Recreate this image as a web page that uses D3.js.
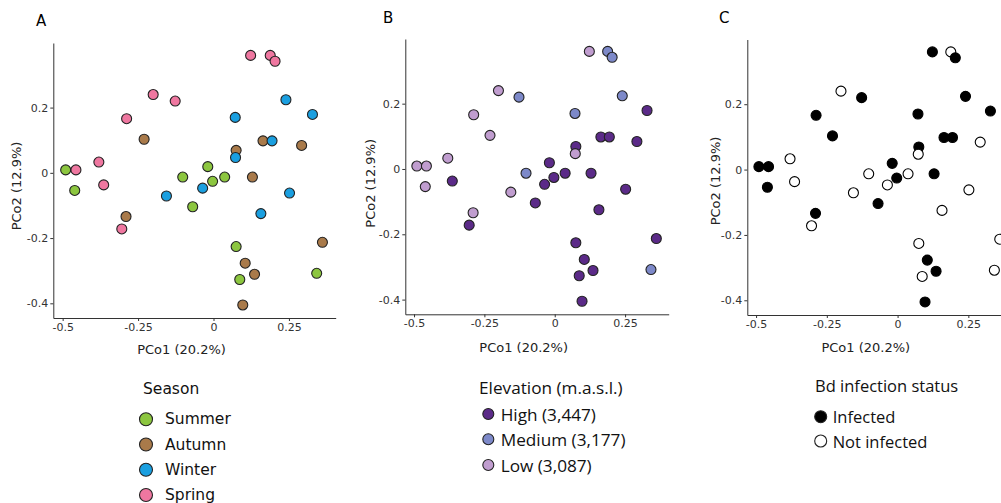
<!DOCTYPE html>
<html><head><meta charset="utf-8">
<script src="https://cdn.jsdelivr.net/npm/d3@7/dist/d3.min.js"></script>
<style>body{margin:0;background:#fff}svg{display:block}</style>
</head><body>
<svg id="c" width="1001" height="503"></svg>
<script>
// ---- data (one entry per sample) ----
const pc1 = [-0.490,-0.456,-0.460,-0.380,-0.364,-0.288,-0.230,-0.290,-0.304,-0.200,
             -0.127,-0.102,-0.156,-0.069,-0.036,-0.019,-0.003,0.037,0.072,0.075,
             0.073,0.123,0.188,0.204,0.129,0.157,0.164,0.194,0.240,0.328,
             0.292,0.252,0.361,0.075,0.105,0.136,0.087,0.342,0.097];
const pc2 = [0.009,0.009,-0.054,0.033,-0.037,0.166,0.103,-0.134,-0.172,0.240,
             0.220,-0.013,-0.071,-0.104,-0.047,0.019,-0.026,-0.013,0.170,0.069,
             0.047,0.360,0.360,0.342,-0.013,-0.125,0.098,0.098,0.224,0.179,
             0.084,-0.062,-0.213,-0.226,-0.277,-0.311,-0.327,-0.308,-0.405];
const season = ["Summer","Spring","Summer","Spring","Spring","Spring","Autumn","Autumn","Spring","Spring",
                "Spring","Summer","Winter","Summer","Winter","Summer","Summer","Summer","Winter","Autumn",
                "Winter","Spring","Spring","Spring","Autumn","Winter","Autumn","Winter","Winter","Winter",
                "Autumn","Winter","Autumn","Summer","Autumn","Autumn","Summer","Summer","Autumn"];
const elevation = ["Low","Low","Low","Low","High","Low","Low","Low","High","Low",
                   "Medium","Medium","Low","High","High","High","High","High","Medium","High",
                   "Low","Low","Medium","Medium","High","High","High","High","Medium","High",
                   "High","High","High","High","High","High","High","Medium","High"];
const infected = [1,1,1,0,0,1,1,1,0,0,
                  1,0,0,1,0,1,1,0,1,1,
                  0,1,0,1,1,0,1,1,1,1,
                  0,0,0,0,1,1,0,0,1];

const seasonCats = ["Summer","Autumn","Winter","Spring"];
const seasonColors = ["#8cc63f","#a97a4a","#1a9fe0","#ef77a0"];
const elevCats = ["High","Medium","Low"];
const elevLabels = ["High (3,447)","Medium (3,177)","Low (3,087)"];
const elevColors = ["#5b2a88","#7d89c9","#c09dcf"];
const infCats = [1,0];
const infLabels = ["Infected","Not infected"];
const infColors = ["#000000","#ffffff"];

const xTicks = [-0.5,-0.25,0,0.25];
const xTickLabels = ["-0.5","-0.25","0","0.25"];
const yTicks = [-0.4,-0.2,0,0.2];
const yTickLabels = ["-0.4","-0.2","0","0.2"];
const xTitle = "PCo1 (20.2%)", yTitle = "PCo2 (12.9%)";
const xDomain = [-0.531, 0.405], yDomain = [-0.445, 0.398];

const data = pc1.map((v,i)=>({x:v,y:pc2[i],season:season[i],elev:elevation[i],inf:infected[i]}));

const svg = d3.select("#c");
const seasonScale = d3.scaleOrdinal(seasonCats, seasonColors);
const elevScale = d3.scaleOrdinal(elevCats, elevColors);
const infScale = d3.scaleOrdinal(infCats, infColors);

const panels = [
  {letter:"A", lx:36, ly:21, xr:[53.3,335.7], yr:[318,43], xtx:181.5, xty:349.5, ytx:16.7, yty:186,
   fill:d=>seasonScale(d.season), r:5, stroke:"#222",
   legend:{title:"Season", font:"DejaVu Sans", fs:15.5, tx:143, ty:389, cx:146, ys:[419.3,444.5,469.7,495], r:6.5, lx:165,
           cats:seasonCats, labels:seasonCats, scale:seasonScale}},
  {letter:"B", lx:383, ly:18, xr:[405.3,668.7], yr:[314.3,39], xtx:523.7, xty:347.5, ytx:370, yty:183.3,
   fill:d=>elevScale(d.elev), r:5, stroke:"#222",
   legend:{title:"Elevation (m.a.s.l.)", font:"Open Sans", fs:17.2, tx:479, ty:387.7, cx:488.3, ys:[414,439.3,465], r:5.5, lx:500.7,
           cats:elevCats, labels:elevLabels, scale:elevScale}},
  {letter:"C", lx:719, ly:18, xr:[747.3,1012.2], yr:[315,39.5], xtx:865.8, xty:347, ytx:715, yty:181,
   fill:d=>infScale(d.inf), r:5, stroke:"#000",
   legend:{title:"Bd infection status", font:"Open Sans", fs:16.5, tx:815, ty:385, cx:820.7, ys:[416.7,441], r:6, lx:832.7,
           cats:infCats, labels:infLabels, scale:infScale}}
];

panels.forEach(p=>{
  const g = svg.append("g");
  const x = d3.scaleLinear(xDomain, p.xr);
  const y = d3.scaleLinear(yDomain, p.yr);

  g.append("text").attr("x",p.lx).attr("y",p.ly).attr("dominant-baseline","central")
    .attr("font-family","DejaVu Sans").attr("font-size",15).attr("fill","#000").text(p.letter);

  const xa = g.append("g").attr("transform",`translate(0,${p.yr[0]})`)
    .call(d3.axisBottom(x).tickValues(xTicks).tickFormat((d,i)=>xTickLabels[i]).tickSize(3).tickPadding(2).tickSizeOuter(0));
  const ya = g.append("g").attr("transform",`translate(${p.xr[0]},0)`)
    .call(d3.axisLeft(y).tickValues(yTicks).tickFormat((d,i)=>yTickLabels[i]).tickSize(3).tickPadding(2).tickSizeOuter(0));
  [xa,ya].forEach(a=>{
    a.select(".domain").attr("stroke","#333").attr("stroke-width",1);
    a.selectAll(".tick line").attr("stroke","#333");
    a.selectAll(".tick text").attr("font-family","DejaVu Sans").attr("font-size",11).attr("fill","#333");
  });

  g.append("text").attr("x",p.xtx).attr("y",p.xty).attr("text-anchor","middle").attr("dominant-baseline","central")
    .attr("font-family","DejaVu Sans").attr("font-size",13).attr("fill","#222").text(xTitle);
  g.append("text").attr("transform",`translate(${p.ytx},${p.yty}) rotate(-90)`).attr("text-anchor","middle")
    .attr("dominant-baseline","central").attr("font-family","DejaVu Sans").attr("font-size",13).attr("fill","#222").text(yTitle);

  g.append("g").selectAll("circle").data(data).join("circle")
    .attr("cx",d=>x(d.x)).attr("cy",d=>y(d.y)).attr("r",p.r)
    .attr("fill",p.fill).attr("stroke",p.stroke).attr("stroke-width",1.1);

  const L = p.legend;
  g.append("text").attr("x",L.tx).attr("y",L.ty).attr("dominant-baseline","central")
    .attr("font-family",L.font).attr("font-size",L.fs).attr("fill","#111").text(L.title);
  L.cats.forEach((c,i)=>{
    g.append("circle").attr("cx",L.cx).attr("cy",L.ys[i]).attr("r",L.r)
      .attr("fill",L.scale(c)).attr("stroke","#222").attr("stroke-width",1.1);
    g.append("text").attr("x",L.lx).attr("y",L.ys[i]).attr("dominant-baseline","central")
      .attr("font-family",L.font).attr("font-size",L.fs).attr("fill","#111").text(L.labels[i]);
  });
});
</script>
</body></html>
